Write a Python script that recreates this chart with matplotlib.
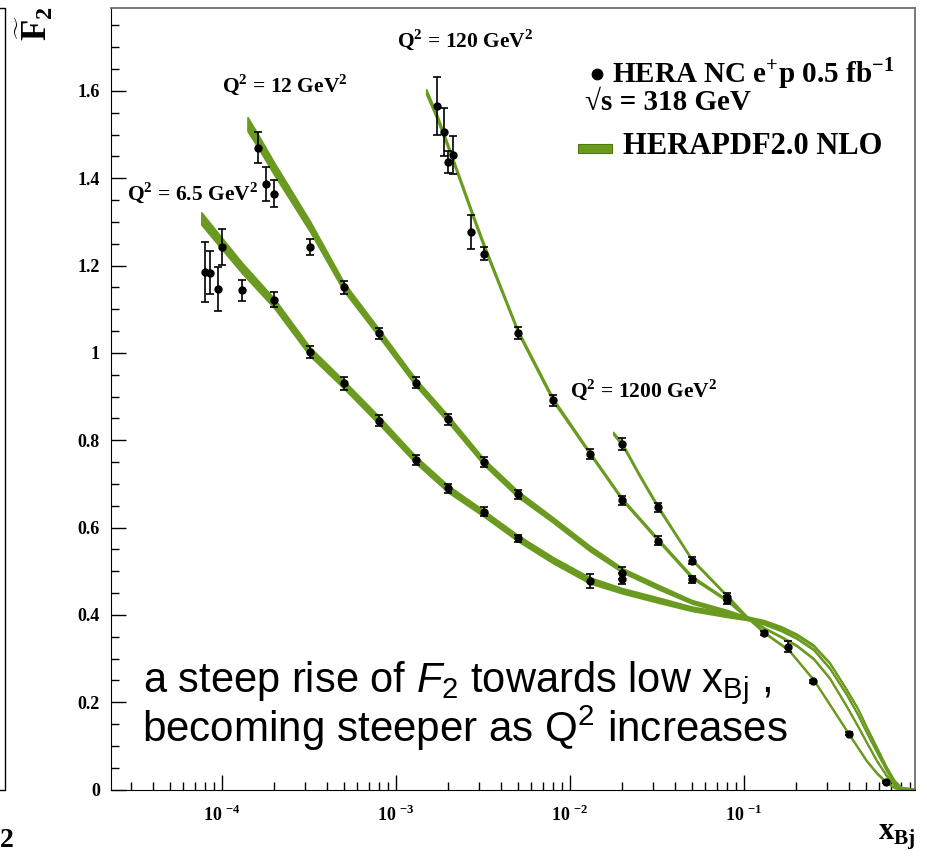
import numpy as np
import matplotlib
matplotlib.use('Agg')
import matplotlib.pyplot as plt
from matplotlib.ticker import FixedLocator, FuncFormatter, LogLocator, MultipleLocator, NullFormatter
from matplotlib.lines import Line2D
from matplotlib.patches import Rectangle

plt.rcParams['font.family'] = 'Liberation Serif'
plt.rcParams['font.weight'] = 'bold'
plt.rcParams['mathtext.fontset'] = 'custom'
plt.rcParams['mathtext.rm'] = 'Liberation Sans:normal'
plt.rcParams['mathtext.it'] = 'Liberation Sans:italic:normal'
plt.rcParams['mathtext.bf'] = 'Liberation Serif:bold'

GREEN = '#6a9a1f'

# HERA NC e+p reduced cross sections, one block per Q2 bin
x_q6 = [8.0e-5, 8.5e-5, 9.5e-5, 1.0e-4, 1.3e-4, 2.0e-4, 3.2e-4, 5e-4, 8e-4, 1.3e-3, 2e-3, 3.2e-3, 5e-3, 1.3e-2, 2e-2]
f2_q6 = [1.185, 1.184, 1.147, 1.242, 1.144, 1.122, 1.002, 0.930, 0.845, 0.755, 0.690, 0.636, 0.575, 0.477, 0.483]
err_q6 = [0.069, 0.050, 0.050, 0.041, 0.024, 0.017, 0.014, 0.014, 0.013, 0.012, 0.010, 0.010, 0.009, 0.016, 0.012]

x_q12 = [1.6e-4, 1.8e-4, 2.0e-4, 3.2e-4, 5e-4, 8e-4, 1.3e-3, 2e-3, 3.2e-3, 5e-3, 2e-2]
f2_q12 = [1.470, 1.386, 1.365, 1.242, 1.150, 1.045, 0.932, 0.848, 0.750, 0.676, 0.495]
err_q12 = [0.036, 0.039, 0.030, 0.018, 0.014, 0.013, 0.013, 0.012, 0.012, 0.011, 0.014]

x_q120 = [1.72e-3, 1.88e-3, 2.0e-3, 2.12e-3, 2.7e-3, 3.2e-3, 5e-3, 8e-3, 1.3e-2, 2e-2, 3.2e-2, 5e-2, 8e-2]
f2_q120 = [1.566, 1.507, 1.438, 1.453, 1.277, 1.227, 1.045, 0.891, 0.769, 0.662, 0.570, 0.481, 0.435]
err_q120 = [0.066, 0.055, 0.025, 0.044, 0.039, 0.015, 0.014, 0.013, 0.012, 0.011, 0.010, 0.009, 0.009]

x_q1200 = [2e-2, 3.2e-2, 5e-2, 8e-2, 0.13, 0.18, 0.25, 0.40, 0.65]
f2_q1200 = [0.792, 0.646, 0.524, 0.441, 0.359, 0.327, 0.248, 0.128, 0.017]
err_q1200 = [0.014, 0.010, 0.008, 0.008, 0.004, 0.013, 0.003, 0.003, 0.003]

# HERAPDF2.0 NLO bands: x, central value, half width
fx_q6 = [7.6e-5, 1e-4, 1.3e-4, 2e-4, 3.2e-4, 5e-4, 8e-4, 1.3e-3, 2e-3, 3.2e-3, 5e-3, 8e-3, 1.3e-2, 2e-2, 3.2e-2,
         5e-2, 8e-2, 0.105, 0.13, 0.163, 0.2, 0.25, 0.31, 0.386, 0.45, 0.505, 0.58, 0.66, 0.73, 0.8, 0.96]
fc_q6 = [1.308, 1.250, 1.195, 1.113, 1.003, 0.928, 0.845, 0.755, 0.688, 0.632, 0.576, 0.525, 0.479, 0.455, 0.434,
         0.414, 0.400, 0.392, 0.385, 0.372, 0.355, 0.330, 0.290, 0.230, 0.185, 0.143, 0.095, 0.050, 0.020, 0.004, 0.0]
fh_q6 = [0.014, 0.013, 0.012, 0.011, 0.010, 0.009, 0.009, 0.008, 0.008, 0.007, 0.007, 0.007, 0.007, 0.006, 0.006,
         0.005, 0.005, 0.004, 0.003, 0.002, 0.002, 0.002, 0.0015, 0.0015, 0.0015, 0.0015, 0.0015, 0.0015, 0.0015,
         0.0015, 0.0015]

fx_q12 = [1.4e-4, 1.6e-4, 2e-4, 3.2e-4, 5e-4, 8e-4, 1.3e-3, 2e-3, 3.2e-3, 5e-3, 8e-3, 1.3e-2, 2e-2, 3.2e-2,
          5e-2, 8e-2, 0.105, 0.13, 0.163, 0.2, 0.25, 0.31, 0.386, 0.45, 0.505, 0.58, 0.66, 0.73, 0.8, 0.96]
fc_q12 = [1.524, 1.487, 1.421, 1.290, 1.152, 1.045, 0.932, 0.848, 0.750, 0.677, 0.617, 0.552, 0.502, 0.464,
          0.430, 0.407, 0.392, 0.380, 0.365, 0.347, 0.321, 0.278, 0.219, 0.172, 0.131, 0.085, 0.043, 0.016, 0.003, 0.0]
fh_q12 = [0.016, 0.015, 0.014, 0.012, 0.010, 0.009, 0.008, 0.008, 0.007, 0.007, 0.006, 0.006, 0.005, 0.005,
          0.004, 0.004, 0.003, 0.002, 0.002, 0.0015, 0.0015, 0.0015, 0.0015, 0.0015, 0.0015, 0.0015, 0.0015,
          0.0015, 0.0015, 0.0015]

fx_q120 = [1.49e-3, 1.72e-3, 2e-3, 2.7e-3, 3.2e-3, 5e-3, 8e-3, 1.3e-2, 2e-2, 3.2e-2, 5e-2, 8e-2, 0.105,
           0.13, 0.163, 0.2, 0.25, 0.31, 0.386, 0.45, 0.505, 0.58, 0.66, 0.73, 0.8, 0.96]
fc_q120 = [1.598, 1.540, 1.470, 1.325, 1.245, 1.050, 0.892, 0.770, 0.664, 0.572, 0.487, 0.433, 0.393,
           0.370, 0.350, 0.330, 0.300, 0.255, 0.192, 0.145, 0.108, 0.065, 0.031, 0.012, 0.002, 0.0]
fh_q120 = [0.006, 0.006, 0.005, 0.005, 0.005, 0.004, 0.004, 0.003, 0.003, 0.003, 0.003, 0.002, 0.002,
           0.0015, 0.0015, 0.0015, 0.0015, 0.0015, 0.0015, 0.0015, 0.0015, 0.0015, 0.0015, 0.0015, 0.0015, 0.0015]

fx_q1200 = [1.77e-2, 2e-2, 2.5e-2, 3.2e-2, 5e-2, 8e-2, 0.105, 0.13, 0.18, 0.25, 0.31, 0.40, 0.505, 0.58,
            0.66, 0.73, 0.8, 0.96]
fc_q1200 = [0.816, 0.790, 0.720, 0.647, 0.527, 0.443, 0.393, 0.360, 0.320, 0.252, 0.195, 0.127, 0.066, 0.037,
            0.016, 0.005, 0.001, 0.0]
fh_q1200 = [0.003, 0.003, 0.003, 0.003, 0.002, 0.002, 0.0015, 0.0015, 0.0015, 0.0015, 0.0015, 0.0015, 0.0015,
            0.0015, 0.0015, 0.0015, 0.0015, 0.0015]

W, H = 928, 857


def fx(px):
    return px / W


def fy(py):
    return 1 - py / H


fig = plt.figure(figsize=(W / 100, H / 100), dpi=100)
ax = fig.add_axes([fx(111), fy(789.5), (915 - 111) / W, (789.5 - 8) / H])

bands = [(fx_q6, fc_q6, fh_q6), (fx_q12, fc_q12, fh_q12),
         (fx_q120, fc_q120, fh_q120), (fx_q1200, fc_q1200, fh_q1200)]
for bx, bc, bh in bands:
    bc = np.array(bc)
    bh = np.array(bh)
    ax.fill_between(bx, bc - bh, bc + bh, color=GREEN, lw=1.2, zorder=2)

points = [(x_q6, f2_q6, err_q6), (x_q12, f2_q12, err_q12),
          (x_q120, f2_q120, err_q120), (x_q1200, f2_q1200, err_q1200)]
for px_, py_, pe in points:
    ax.errorbar(px_, py_, yerr=pe, fmt='o', color='black', ms=5, elinewidth=1.2,
                capsize=3, capthick=1.2, zorder=3)

ax.set_xscale('log')
ax.set_xlim(2.3e-5, 0.96)
ax.set_ylim(0, 1.79)

ax.xaxis.set_major_locator(FixedLocator([1e-4, 1e-3, 1e-2, 1e-1]))
ax.xaxis.set_minor_locator(LogLocator(base=10, subs=np.arange(2, 10) * 1.0, numticks=20))
ax.xaxis.set_major_formatter(FuncFormatter(lambda v, pos: r'10 $^{\mathbf{%d}}$' % round(np.log10(v))))
ax.xaxis.set_minor_formatter(NullFormatter())
ax.yaxis.set_major_locator(MultipleLocator(0.2))
ax.yaxis.set_minor_locator(MultipleLocator(0.05))
ax.yaxis.set_major_formatter(FuncFormatter(lambda v, pos: '%g' % round(v, 1)))

ax.tick_params(which='both', direction='in', top=False, right=False, width=1)
ax.tick_params(which='major', length=11, labelsize=13)
ax.tick_params(which='minor', length=5.5)
ax.tick_params(axis='y', pad=8)
ax.tick_params(axis='x', pad=11)
for side in ['top', 'right']:
    ax.spines[side].set_color('#6e6e6e')
    ax.spines[side].set_linewidth(1.3)

# bin labels
fig.text(fx(127), fy(200), 'Q$^{\\mathbf{2}}$ = 6.5 GeV$^{\\mathbf{2}}$', fontsize=15.5, va='baseline')
fig.text(fx(222), fy(92), 'Q$^{\\mathbf{2}}$ = 12 GeV$^{\\mathbf{2}}$', fontsize=15.5, va='baseline')
fig.text(fx(397), fy(47), 'Q$^{\\mathbf{2}}$ = 120 GeV$^{\\mathbf{2}}$', fontsize=15.5, va='baseline')
fig.text(fx(570), fy(397), 'Q$^{\\mathbf{2}}$ = 1200 GeV$^{\\mathbf{2}}$', fontsize=15.5, va='baseline')

# legend
fig.add_artist(Line2D([fx(597)], [fy(74)], marker='o', ms=7.5, color='black'))
fig.text(fx(612), fy(82), 'HERA NC e$^{\\mathbf{+}}$p 0.5 fb$^{\\mathbf{-1}}$', fontsize=21, va='baseline')
fig.text(fx(585), fy(110), '\u221as = 318 GeV', fontsize=21, va='baseline')
fig.add_artist(Rectangle((fx(578), fy(153)), (612 - 578) / W, 9 / H, facecolor=GREEN,
                         edgecolor='#4f7a12', lw=0.8, transform=fig.transFigure))
fig.text(fx(623), fy(154), 'HERAPDF2.0 NLO', fontsize=22, va='baseline')

# axis titles
fig.text(fx(14), fy(6), r'$\widetilde{\mathbf{F}}_{\mathbf{2}}$', fontsize=25, rotation=90,
         ha='left', va='top')
fig.text(fx(916), fy(840), r'x$_{\mathbf{Bj}}$', fontsize=22, ha='right', va='baseline')

# comment
fig.text(fx(143), fy(692), r'a steep rise of $F_2$ towards low x$_{\mathrm{Bj}}$ ,', family='Liberation Sans',
         weight='normal', fontsize=30, va='baseline')
fig.text(fx(142), fy(742), r'becoming steeper as Q$^2$ increases', family='Liberation Sans',
         weight='normal', fontsize=30.3, va='baseline')

# edge of the neighbouring panel
fig.add_artist(Line2D([0, fx(5.5), fx(5.5), 0], [fy(8), fy(8), fy(789.5), fy(789.5)], color='black', lw=1))
fig.text(0.0, fy(847), '2', fontsize=20, ha='left', va='baseline')

fig.savefig('out.png', dpi=100)
